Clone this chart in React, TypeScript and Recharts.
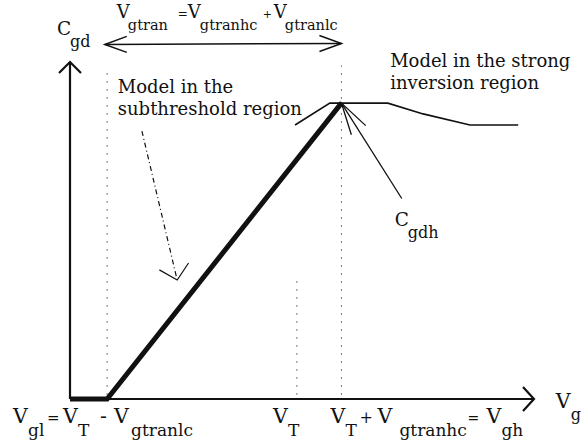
import React from "react";
import {
  LineChart,
  Line,
  XAxis,
  YAxis,
  ReferenceLine,
  ReferenceDot,
} from "recharts";

// gate voltage marks, in normalised units along the V_g axis
const VGL = 0.8;
const VT = 4.89;
const VGH = 5.85;
// C_gd reaches C_gdh at V_gh
const CGDH = 8.78;

// linear model of the subthreshold region
const subthresholdV = [0, VGL, VGH];
const subthresholdC = [0, 0, CGDH];

// strong inversion model
const strongV = [4.85, 5.6, 6.85, 7.61, 8.62, 9.66];
const strongC = [8.13, 8.78, 8.78, 8.46, 8.13, 8.13];

const xTicks = [VGL, VT, VGH];

const FONT = "DejaVu Serif";
const INK = "#111";

const subthresholdData = subthresholdV.map((v, i) => ({ v, c: subthresholdC[i] }));
const strongData = strongV.map((v, i) => ({ v, c: strongC[i] }));

type Part = { t: string; dx: number; sub?: boolean; line?: number; size?: number };
type TextStyle = { size: number; subSize: number; subDy: number; lineH?: number };

const RichText = ({
  x,
  y,
  parts,
  style,
}: {
  x: number;
  y: number;
  parts: Part[];
  style: TextStyle;
}) => (
  <g>
    {parts.map((p, i) => (
      <text
        key={i}
        x={x + p.dx}
        y={y + (p.sub ? style.subDy : 0) + (p.line ?? 0) * (style.lineH ?? 22)}
        fontSize={p.size ?? (p.sub ? style.subSize : style.size)}
        fontFamily={FONT}
        fill={INK}
      >
        {p.t}
      </text>
    ))}
  </g>
);

const tickStyle: TextStyle = { size: 20.5, subSize: 17, subDy: 13 };

// labels under the V_g axis, offsets from the tick position
const tickLabels: Record<string, Part[]> = {
  [VGL]: [
    { t: "V", dx: -94 },
    { t: "gl", dx: -79, sub: true },
    { t: "=", dx: -60, size: 15 },
    { t: "V", dx: -44 },
    { t: "T", dx: -29, sub: true },
    { t: "-", dx: -7 },
    { t: "V", dx: 7 },
    { t: "gtranlc", dx: 24, sub: true },
  ],
  [VT]: [
    { t: "V", dx: -24 },
    { t: "T", dx: -9, sub: true },
  ],
  [VGH]: [
    { t: "V", dx: -11 },
    { t: "T", dx: 4, sub: true },
    { t: "+", dx: 18, size: 16 },
    { t: "V", dx: 36 },
    { t: "gtranhc", dx: 58, sub: true },
    { t: "=", dx: 126, size: 14 },
    { t: "V", dx: 145 },
    { t: "gh", dx: 160, sub: true },
  ],
};

const BottomTick = (props: any) => {
  const { x, y, payload } = props;
  const parts = tickLabels[String(payload.value)] ?? [];
  return <RichText x={x} y={y + 24} parts={parts} style={tickStyle} />;
};

// free annotations, anchored at (v, c)
const annotations: { v: number; c: number; parts: Part[]; style: TextStyle }[] = [
  {
    v: -0.28,
    c: 10.8,
    parts: [
      { t: "C", dx: 0 },
      { t: "gd", dx: 13, sub: true },
    ],
    style: { size: 18.5, subSize: 16, subDy: 12 },
  },
  {
    v: 1.01,
    c: 11.31,
    parts: [
      { t: "V", dx: 0 },
      { t: "gtran", dx: 11, sub: true },
      { t: "=", dx: 61, size: 12 },
      { t: "V", dx: 71 },
      { t: "gtranhc", dx: 83, sub: true },
      { t: "+", dx: 146, size: 11 },
      { t: "V", dx: 157 },
      { t: "gtranlc", dx: 168, sub: true },
    ],
    style: { size: 18, subSize: 14.5, subDy: 12 },
  },
  {
    v: 1.03,
    c: 9.08,
    parts: [
      { t: "Model in the", dx: 0 },
      { t: "subthreshold region", dx: 0, line: 1 },
    ],
    style: { size: 18, subSize: 18, subDy: 0, lineH: 22 },
  },
  {
    v: 6.9,
    c: 9.85,
    parts: [
      { t: "Model in the strong", dx: 0 },
      { t: "inversion region", dx: 0, line: 1 },
    ],
    style: { size: 18, subSize: 18, subDy: 0, lineH: 22 },
  },
  {
    v: 7.0,
    c: 5.13,
    parts: [
      { t: "C", dx: 0 },
      { t: "gdh", dx: 13, sub: true },
    ],
    style: { size: 18.5, subSize: 16, subDy: 12 },
  },
  {
    v: 10.47,
    c: -0.27,
    parts: [
      { t: "V", dx: 0 },
      { t: "g", dx: 15, sub: true },
    ],
    style: { size: 20.5, subSize: 16, subDy: 12 },
  },
];

// axes and pointers, drawn as segments with open arrow heads
type Arrow = {
  from: [number, number];
  to: [number, number];
  both?: boolean;
  len: number;
  half: number;
  width: number;
  dash?: string;
};

const arrows: Arrow[] = [
  { from: [0, 0], to: [10, 0], len: 11, half: 12, width: 2.2 },
  { from: [0, 0], to: [0, 10], len: 11, half: 11, width: 2.2 },
  { from: [0.75, 10.52], to: [VGH, 10.55], both: true, len: 22, half: 8, width: 1.5 },
  { from: [1.55, 7.95], to: [2.31, 3.53], len: 14, half: 15, width: 1.2, dash: "5 3 1 3" },
  { from: [7.15, 5.95], to: [VGH, CGDH], len: 32, half: 8.5, width: 1.3 },
];

// dotted guides at V_gl, V_T and V_gh
const guides = [
  { v: VGL, from: 0.12, to: 9.8 },
  { v: VT, from: 0.12, to: 3.6 },
  { v: VGH, from: 0.12, to: 9.9 },
];

const ArrowShape = (props: any) => {
  const { x1, y1, x2, y2, arrow } = props;
  const a: Arrow = arrow;
  const dx = x2 - x1;
  const dy = y2 - y1;
  const L = Math.hypot(dx, dy) || 1;
  const ux = dx / L;
  const uy = dy / L;
  const head = (tx: number, ty: number, sx: number, sy: number) => {
    const bx = tx + sx * a.len;
    const by = ty + sy * a.len;
    return `M${bx - sy * a.half},${by + sx * a.half}L${tx},${ty}L${bx + sy * a.half},${by - sx * a.half}`;
  };
  return (
    <g stroke={INK} fill="none" strokeWidth={a.width}>
      <line x1={x1} y1={y1} x2={x2} y2={y2} strokeDasharray={a.dash} />
      <path d={head(x2, y2, -ux, -uy)} />
      {a.both && <path d={head(x1, y1, ux, uy)} />}
    </g>
  );
};

const App = () => (
  <div
    style={{
      position: "absolute",
      left: 0,
      top: 0,
      width: 582,
      height: 445,
      background: "#fff",
    }}
  >
    <LineChart
      width={582}
      height={445}
      margin={{ top: 62, right: 48, bottom: 0, left: 70 }}
    >
      <XAxis
        dataKey="v"
        type="number"
        domain={[0, 10]}
        ticks={xTicks}
        interval={0}
        axisLine={false}
        tickLine={false}
        tickSize={0}
        tickMargin={0}
        height={46}
        tick={(p: any) => <BottomTick {...p} />}
      />
      <YAxis dataKey="c" type="number" domain={[0, 10]} hide width={0} />

      {guides.map((g, i) => (
        <ReferenceLine
          key={`guide-${i}`}
          segment={[
            { x: g.v, y: g.from },
            { x: g.v, y: g.to },
          ]}
          stroke="#777"
          strokeWidth={1}
          strokeDasharray="2 6"
          ifOverflow="visible"
        />
      ))}

      {arrows.map((a, i) => (
        <ReferenceLine
          key={`arrow-${i}`}
          segment={[
            { x: a.from[0], y: a.from[1] },
            { x: a.to[0], y: a.to[1] },
          ]}
          ifOverflow="visible"
          shape={(p: any) => <ArrowShape {...p} arrow={a} />}
        />
      ))}

      <Line
        data={strongData}
        dataKey="c"
        type="linear"
        stroke={INK}
        strokeWidth={1.6}
        dot={false}
        activeDot={false}
        isAnimationActive={false}
      />
      <Line
        data={subthresholdData}
        dataKey="c"
        type="linear"
        stroke={INK}
        strokeWidth={5}
        dot={false}
        activeDot={false}
        isAnimationActive={false}
      />

      {annotations.map((a, i) => (
        <ReferenceDot
          key={`note-${i}`}
          x={a.v}
          y={a.c}
          r={0}
          ifOverflow="visible"
          shape={(p: any) => (
            <RichText x={p.cx} y={p.cy} parts={a.parts} style={a.style} />
          )}
        />
      ))}
    </LineChart>
  </div>
);

export default App;
